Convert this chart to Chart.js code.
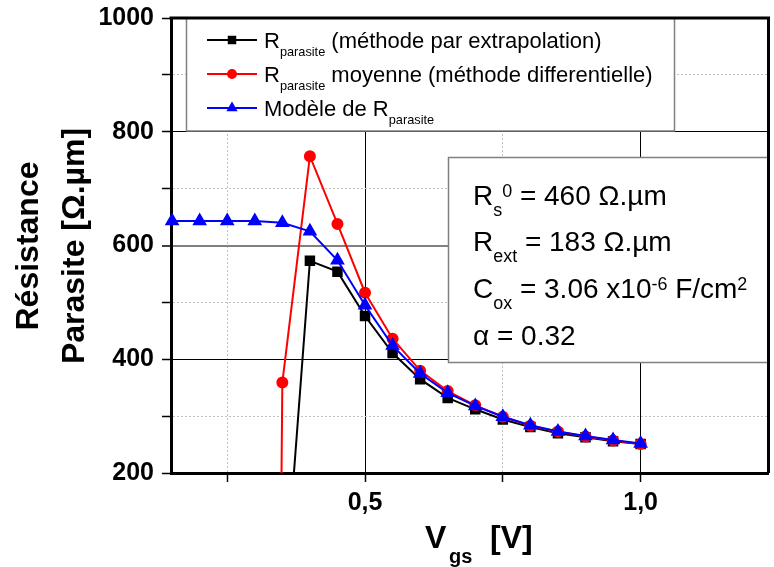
<!DOCTYPE html>
<html>
<head>
<meta charset="utf-8">
<script src="https://cdn.jsdelivr.net/npm/chart.js@4/dist/chart.umd.min.js"></script>
<style>body{margin:0;background:#fff;overflow:hidden}</style>
</head>
<body>
<!-- the figure is cut off on the right, so the canvas is a little wider than the window -->
<canvas id="c" width="777" height="567"></canvas>
<script>
// values: Vgs in V, resistance in Ohm.um
const vgsExtrap = [0.35, 0.40, 0.45, 0.50, 0.55, 0.60, 0.65, 0.70, 0.75, 0.80, 0.85, 0.90, 0.95, 1.00]
const rExtrap = [-70, 573, 554, 476, 411, 365, 332, 312, 294, 281, 270, 263, 256, 251]

const vgsDiff = [0.30, 0.35, 0.40, 0.45, 0.50, 0.55, 0.60, 0.65, 0.70, 0.75, 0.80, 0.85, 0.90, 0.95, 1.00]
const rDiff = [-5000, 359, 757, 638, 517, 436, 380, 344, 319, 299, 283, 273, 264, 257, 251]

const vgsModel = [0.15, 0.20, 0.25, 0.30, 0.35, 0.40, 0.45, 0.50, 0.55, 0.60, 0.65, 0.70, 0.75, 0.80, 0.85, 0.90, 0.95, 1.00]
const rModel = [643, 643, 643, 643, 640, 625, 574, 495, 424, 375, 341, 318, 299, 284, 273, 265, 258, 252]

const xTicks = [0.25, 0.5, 0.75, 1.0]
const xLabelled = [0.5, 1.0]
const yLabelled = [200, 400, 600, 800, 1000]

// legend / annotation texts, [text, 'sub'|'sup'|'']
const legendTexts = [
    [['R', ''], ['parasite', 'sub'], [' (méthode par extrapolation)', '']],
    [['R', ''], ['parasite', 'sub'], [' moyenne (méthode differentielle)', '']],
    [['Modèle de R', ''], ['parasite', 'sub']]
]
const boxLines = [
    [['R', ''], ['s', 'sub'], ['0', 'sup'], [' = 460 Ω.µm', '']],
    [['R', ''], ['ext', 'sub'], [' = 183 Ω.µm', '']],
    [['C', ''], ['ox', 'sub'], [' = 3.06 x10', ''], ['-6', 'sup'], [' F/cm', ''], ['2', 'sup']],
    [['α = 0.32', '']]
]

const FONT = 'Arial, "Liberation Sans", sans-serif'

function toXY(xs, ys) {
    let pts = []
    for (let i = 0; i < xs.length; i++) pts.push({x: xs[i], y: ys[i]})
    return pts
}

function richText(ctx, x, y, parts, size, small) {
    for (const [txt, kind] of parts) {
        let s = kind ? size * small : size
        ctx.font = s + 'px ' + FONT
        let dy = kind == 'sub' ? size * 0.38 : (kind == 'sup' ? -size * 0.3 : 0)
        ctx.fillText(txt, x, y + dy)
        x += ctx.measureText(txt).width
    }
    return x
}

function marker(ctx, style, x, y, r) {
    ctx.beginPath()
    if (style == 'rect') {
        let h = r * Math.SQRT1_2
        ctx.rect(x - h, y - h, 2 * h, 2 * h)
    } else if (style == 'triangle') {
        ctx.moveTo(x, y - r)
        ctx.lineTo(x + r * 0.866, y + r * 0.5)
        ctx.lineTo(x - r * 0.866, y + r * 0.5)
        ctx.closePath()
    } else {
        ctx.arc(x, y, r, 0, Math.PI * 2)
    }
    ctx.fill()
}

const decorations = {
    id: 'decorations',
    afterDraw(chart) {
        const ctx = chart.ctx
        const a = chart.chartArea
        ctx.save()
        ctx.textBaseline = 'alphabetic'

        // legend box
        ctx.fillStyle = '#fff'
        ctx.fillRect(186.5, 18, 488, 113)
        ctx.strokeStyle = '#808080'
        ctx.lineWidth = 1.5
        ctx.strokeRect(186.5, 18, 488, 113)
        const rows = [40, 74, 108]
        chart.data.datasets.forEach((ds, i) => {
            ctx.strokeStyle = ds.borderColor
            ctx.lineWidth = 2
            ctx.beginPath()
            ctx.moveTo(207, rows[i])
            ctx.lineTo(257, rows[i])
            ctx.stroke()
            ctx.fillStyle = ds.backgroundColor
            marker(ctx, ds.pointStyle, 232, rows[i], ds.pointRadius)
            ctx.fillStyle = '#000'
            richText(ctx, 264, rows[i] + 8, legendTexts[i], 22, 0.58)
        })

        // parameter box
        ctx.fillStyle = '#fff'
        ctx.fillRect(448.5, 157.5, 320, 205)
        ctx.strokeStyle = '#808080'
        ctx.lineWidth = 1.5
        ctx.strokeRect(448.5, 157.5, 320, 205)
        ctx.fillStyle = '#000'
        const base = [205, 251, 298, 345]
        boxLines.forEach((ln, i) => richText(ctx, 473, base[i], ln, 28, 0.64))

        // frame top and right
        ctx.strokeStyle = '#000'
        ctx.lineWidth = 3
        ctx.beginPath()
        ctx.moveTo(a.left - 1.5, a.top)
        ctx.lineTo(a.right, a.top)
        ctx.lineTo(a.right, a.bottom)
        ctx.stroke()

        // x title: V_gs [V]
        ctx.fillStyle = '#000'
        ctx.font = 'bold 32px ' + FONT
        ctx.fillText('V', 425, 548)
        ctx.font = 'bold 20px ' + FONT
        ctx.fillText('gs', 449, 563)
        ctx.font = 'bold 32px ' + FONT
        ctx.fillText('[V]', 490, 548)

        // y title
        ctx.font = 'bold 32px ' + FONT
        ctx.textAlign = 'center'
        const yt = ['Résistance', 'Parasite [Ω.µm]']
        const bx = [38, 84]
        for (let i = 0; i < yt.length; i++) {
            ctx.save()
            ctx.translate(bx[i], 246)
            ctx.rotate(-Math.PI / 2)
            ctx.fillText(yt[i], 0, 0)
            ctx.restore()
        }
        ctx.restore()
    }
}

data = {
    datasets: [
        {
            label: 'R parasite (méthode par extrapolation)',
            data: toXY(vgsExtrap, rExtrap),
            borderColor: '#000000',
            backgroundColor: '#000000',
            pointStyle: 'rect',
            pointRadius: 6,
            borderWidth: 2,
            order: 3
        },
        {
            label: 'R parasite moyenne (méthode differentielle)',
            data: toXY(vgsDiff, rDiff),
            borderColor: '#ff0000',
            backgroundColor: '#ff0000',
            pointStyle: 'circle',
            pointRadius: 5,
            borderWidth: 2,
            order: 2
        },
        {
            label: 'Modèle de R parasite',
            data: toXY(vgsModel, rModel),
            borderColor: '#0000ff',
            backgroundColor: '#0000ff',
            pointStyle: 'triangle',
            pointRadius: 6.5,
            borderWidth: 2,
            order: 1
        }
    ]
}

tickFont = {family: FONT, size: 25, weight: 'bold'}

config = {
    type: 'line',
    data: data,
    options: {
        responsive: false,
        animation: false,
        layout: {padding: {top: 18, right: 2, left: 0, bottom: 0}},
        elements: {
            line: {tension: 0},
            point: {borderWidth: 1, hoverRadius: 6}
        },
        datasets: {line: {clip: {left: 10, right: 0, top: 0, bottom: 0}}},
        plugins: {legend: {display: false}, tooltip: {enabled: false}},
        scales: {
            x: {
                type: 'linear',
                min: 0.148,
                max: 1.232,
                afterBuildTicks: (s) => { s.ticks = xTicks.map(v => ({value: v})) },
                afterFit: (s) => {
                    s.height = 94
                    s.paddingLeft = 0
                    s.paddingRight = 0
                },
                ticks: {
                    autoSkip: false,
                    maxRotation: 0,
                    padding: 6,
                    color: '#000',
                    font: tickFont,
                    callback: (v) => xLabelled.includes(v) ? v.toFixed(1).replace('.', ',') : ''
                },
                grid: {
                    color: (c) => xLabelled.includes(c.tick.value) ? '#000' : '#c0c0c0',
                    lineWidth: 1,
                    tickColor: '#000',
                    tickWidth: 1.5,
                    tickLength: 9
                },
                border: {
                    color: '#000',
                    width: 3,
                    dash: (c) => (c.tick && !xLabelled.includes(c.tick.value)) ? [2, 2] : []
                }
            },
            y: {
                min: 200,
                max: 1000,
                afterFit: (s) => {
                    s.width = 171
                    s.paddingTop = 0
                    s.paddingBottom = 0
                },
                ticks: {
                    stepSize: 100,
                    autoSkip: false,
                    padding: 8,
                    color: '#000',
                    font: tickFont,
                    callback: (v) => yLabelled.includes(v) ? String(v) : ''
                },
                grid: {
                    color: (c) => c.tick.value == 600 ? '#808080' : (c.tick.value % 200 == 0 ? '#000' : '#c0c0c0'),
                    lineWidth: (c) => c.tick.value == 600 ? 2 : 1,
                    tickColor: '#000',
                    tickWidth: 1.5,
                    tickLength: 9
                },
                border: {
                    color: '#000',
                    width: 3,
                    dash: (c) => (c.tick && c.tick.value % 200 != 0) ? [2, 2] : []
                }
            }
        }
    },
    plugins: [decorations]
}

myChart = new Chart(document.getElementById('c'), config)
</script>
</body>
</html>
